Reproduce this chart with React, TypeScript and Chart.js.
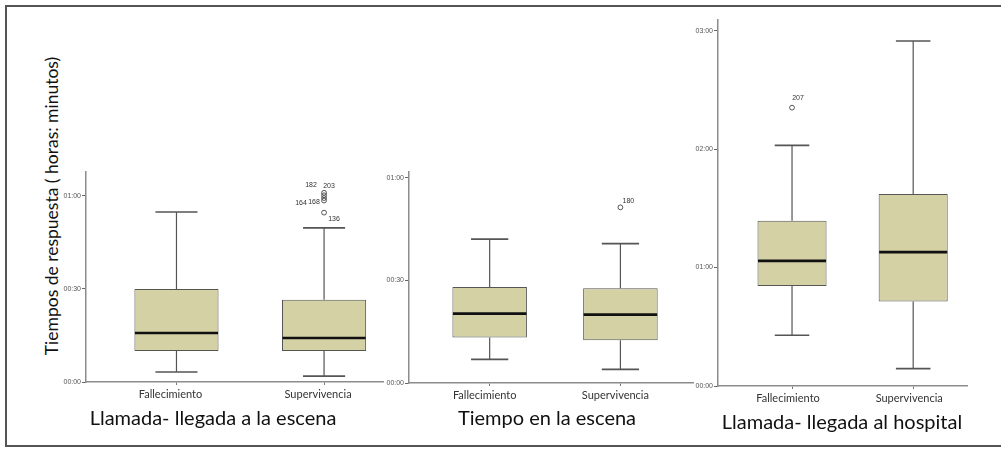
import React, { useEffect, useRef } from 'react';
import { Chart, registerables } from 'chart.js';

Chart.register(...registerables);

// ---------- data (minutes) ----------
const CATEGORIES = ['Fallecimiento', 'Supervivencia'];
const CATEGORY_POS = [0, 1];

// Panel 1: Llamada- llegada a la escena
const ESCENA_LOW = [3.2, 1.9];
const ESCENA_Q1 = [10.0, 10.0];
const ESCENA_MEDIAN = [15.8, 14.2];
const ESCENA_Q3 = [30.0, 26.5];
const ESCENA_HIGH = [54.8, 49.7];
const ESCENA_OUT_CAT = [1, 1, 1, 1, 1];
const ESCENA_OUT_VAL = [54.6, 58.5, 59.3, 61.0, 60.2];
const ESCENA_OUT_ID = ['136', '164', '168', '182', '203'];
const ESCENA_Y_TICKS = [0, 30, 60];
const ESCENA_Y_LABELS = ['00:00', '00:30', '01:00'];

// Panel 2: Tiempo en la escena
const TIEMPO_LOW = [6.9, 4.0];
const TIEMPO_Q1 = [13.3, 12.5];
const TIEMPO_MEDIAN = [20.3, 20.0];
const TIEMPO_Q3 = [28.1, 27.7];
const TIEMPO_HIGH = [42.1, 40.8];
const TIEMPO_OUT_CAT = [1];
const TIEMPO_OUT_VAL = [51.4];
const TIEMPO_OUT_ID = ['180'];
const TIEMPO_Y_TICKS = [0, 30, 60];
const TIEMPO_Y_LABELS = ['00:00', '00:30', '01:00'];

// Panel 3: Llamada- llegada al hospital
const HOSPITAL_LOW = [25.7, 8.8];
const HOSPITAL_Q1 = [50.7, 42.8];
const HOSPITAL_MEDIAN = [63.4, 67.8];
const HOSPITAL_Q3 = [83.7, 97.2];
const HOSPITAL_HIGH = [121.9, 174.8];
const HOSPITAL_OUT_CAT = [0];
const HOSPITAL_OUT_VAL = [141.0];
const HOSPITAL_OUT_ID = ['207'];
const HOSPITAL_Y_TICKS = [0, 60, 120, 180];
const HOSPITAL_Y_LABELS = ['00:00', '01:00', '02:00', '03:00'];

// ---------- styles ----------
const LABEL_OFFSETS: Record<string, [number, number]> = {
  '136': [10, 6],
  '164': [-23, 3],
  '168': [-10, 4],
  '182': [-13, -8],
  '203': [5, -9],
  '180': [8, -6],
  '207': [6, -10],
};

const BOX_FILL = '#d4d1a5';
const LINE_COLOR = '#555555';
const AXIS_COLOR = '#8c8c8c';
const BOX_FRACTION = 0.57;

type Spec = {
  low: number[]; q1: number[]; median: number[]; q3: number[]; high: number[];
  outCat: number[]; outVal: number[]; outId: string[];
  yTicks: number[]; yLabels: string[];
  yMax: number; xMin: number; xMax: number;
  left: number; top: number; width: number; height: number;
  labelOffset: number;
};

const Y_AXIS_W = 30;
const X_AXIS_H = 40;
const PAD_TOP = 10;

function BoxPanel({ spec }: { spec: Spec }) {
  const ref = useRef<HTMLCanvasElement | null>(null);
  useEffect(() => {
    if (!ref.current) return;
    const whiskerPlugin = {
      id: 'whiskers',
      afterDatasetsDraw(chart: any) {
        const ctx = chart.ctx;
        const xs = chart.scales.x;
        const ys = chart.scales.y;
        const meta = chart.getDatasetMeta(0);
        ctx.save();
        CATEGORY_POS.forEach((pos, i) => {
          const cx = xs.getPixelForValue(pos);
          const capHalf = (xs.getPixelForValue(pos + BOX_FRACTION / 4) - cx);
          const yHigh = ys.getPixelForValue(spec.high[i]);
          const yLow = ys.getPixelForValue(spec.low[i]);
          const yQ1 = ys.getPixelForValue(spec.q1[i]);
          const yQ3 = ys.getPixelForValue(spec.q3[i]);
          ctx.strokeStyle = LINE_COLOR;
          ctx.lineWidth = 1.2;
          ctx.beginPath();
          ctx.moveTo(cx, yQ3); ctx.lineTo(cx, yHigh);
          ctx.moveTo(cx, yQ1); ctx.lineTo(cx, yLow);
          ctx.stroke();
          ctx.lineWidth = 1.6;
          ctx.beginPath();
          ctx.moveTo(cx - capHalf, yHigh); ctx.lineTo(cx + capHalf, yHigh);
          ctx.moveTo(cx - capHalf, yLow); ctx.lineTo(cx + capHalf, yLow);
          ctx.stroke();
          const el = meta.data[i];
          const yMed = ys.getPixelForValue(spec.median[i]);
          ctx.strokeStyle = '#111111';
          ctx.lineWidth = 2.6;
          ctx.beginPath();
          ctx.moveTo(el.x - el.width / 2 + 0.5, yMed);
          ctx.lineTo(el.x + el.width / 2 - 0.5, yMed);
          ctx.stroke();
        });
        ctx.fillStyle = '#333333';
        ctx.font = '7px "Liberation Sans"';
        ctx.textAlign = 'center';
        ctx.textBaseline = 'middle';
        spec.outId.forEach((id, k) => {
          const px = xs.getPixelForValue(spec.outCat[k]);
          const py = ys.getPixelForValue(spec.outVal[k]);
          const off = LABEL_OFFSETS[id] || [6, -6];
          ctx.fillText(id, px + off[0], py + off[1]);
        });
        ctx.restore();
      },
    };

    const chart = new Chart(ref.current, {
      type: 'bar',
      data: {
        datasets: [
          {
            type: 'bar',
            data: CATEGORY_POS.map((pos, i) => ({ x: pos, y: [spec.q1[i], spec.q3[i]] })) as any,
            backgroundColor: BOX_FILL,
            borderColor: LINE_COLOR,
            borderWidth: 1,
            borderSkipped: false,
            barPercentage: BOX_FRACTION,
            categoryPercentage: 1,
          } as any,
          {
            type: 'scatter',
            data: spec.outVal.map((v, k) => ({ x: spec.outCat[k], y: v })),
            pointStyle: 'circle',
            pointRadius: 2.4,
            pointBackgroundColor: 'rgba(255,255,255,0)',
            pointBorderColor: '#444444',
            pointBorderWidth: 0.9,
          } as any,
        ],
      },
      options: {
        animation: false,
        responsive: false,
        events: [],
        layout: { padding: { top: PAD_TOP, left: 0, right: 0, bottom: 0 } },
        plugins: { legend: { display: false }, tooltip: { enabled: false }, title: { display: false } },
        scales: {
          x: {
            type: 'linear',
            min: spec.xMin,
            max: spec.xMax,
            offset: false,
            afterFit: (s: any) => { s.height = X_AXIS_H; },
            afterBuildTicks: (s: any) => { s.ticks = CATEGORY_POS.map((v) => ({ value: v })); },
            ticks: {
              callback: (_v: any, i: number) => CATEGORIES[i],
              font: { size: 11, family: 'Lato' },
              color: '#333333',
              padding: 3,
              labelOffset: spec.labelOffset,
              maxRotation: 0,
              autoSkip: false,
            },
            grid: { display: true, drawOnChartArea: false, drawTicks: true, tickLength: 3, color: '#777777', offset: false },
            border: { display: true, color: AXIS_COLOR, width: 1.5 },
          },
          y: {
            type: 'linear',
            min: 0,
            max: spec.yMax,
            afterFit: (s: any) => { s.width = Y_AXIS_W; },
            afterBuildTicks: (s: any) => { s.ticks = spec.yTicks.map((v) => ({ value: v })); },
            ticks: {
              callback: (_v: any, i: number) => spec.yLabels[i],
              font: { size: 7, family: 'Liberation Sans' },
              color: '#555555',
              padding: 1,
              autoSkip: false,
            },
            grid: { display: true, drawOnChartArea: false, drawTicks: true, tickLength: 4, color: '#666666' },
            border: { display: true, color: AXIS_COLOR, width: 1.5 },
          },
        },
      } as any,
      plugins: [whiskerPlugin],
    });
    return () => chart.destroy();
  }, [spec]);
  return (
    <canvas
      ref={ref}
      width={spec.width}
      height={spec.height}
      style={{ position: 'absolute', left: spec.left, top: spec.top, width: spec.width, height: spec.height }}
    />
  );
}

function makeSpec(
  d: Omit<Spec, 'left' | 'top' | 'width' | 'height'>,
  area: { left: number; right: number; top: number; bottom: number }
): Spec {
  const left = area.left - Y_AXIS_W;
  const top = area.top - PAD_TOP;
  return { ...d, left, top, width: area.right - left, height: area.bottom - top + X_AXIS_H };
}

const SPEC_ESCENA = makeSpec(
  {
    low: ESCENA_LOW, q1: ESCENA_Q1, median: ESCENA_MEDIAN, q3: ESCENA_Q3, high: ESCENA_HIGH,
    outCat: ESCENA_OUT_CAT, outVal: ESCENA_OUT_VAL, outId: ESCENA_OUT_ID,
    yTicks: ESCENA_Y_TICKS, yLabels: ESCENA_Y_LABELS,
    yMax: 67.7, xMin: -0.613, xMax: 1.4, labelOffset: -6,
  },
  { left: 86, right: 388, top: 172, bottom: 382 }
);

const SPEC_TIEMPO = makeSpec(
  {
    low: TIEMPO_LOW, q1: TIEMPO_Q1, median: TIEMPO_MEDIAN, q3: TIEMPO_Q3, high: TIEMPO_HIGH,
    outCat: TIEMPO_OUT_CAT, outVal: TIEMPO_OUT_VAL, outId: TIEMPO_OUT_ID,
    yTicks: TIEMPO_Y_TICKS, yLabels: TIEMPO_Y_LABELS,
    yMax: 61.75, xMin: -0.617, xMax: 1.556, labelOffset: -5,
  },
  { left: 409, right: 698, top: 172, bottom: 383 }
);

const SPEC_HOSPITAL = makeSpec(
  {
    low: HOSPITAL_LOW, q1: HOSPITAL_Q1, median: HOSPITAL_MEDIAN, q3: HOSPITAL_Q3, high: HOSPITAL_HIGH,
    outCat: HOSPITAL_OUT_CAT, outVal: HOSPITAL_OUT_VAL, outId: HOSPITAL_OUT_ID,
    yTicks: HOSPITAL_Y_TICKS, yLabels: HOSPITAL_Y_LABELS,
    yMax: 185.4, xMin: -0.611, xMax: 1.445, labelOffset: -4,
  },
  { left: 718, right: 972, top: 20, bottom: 386 }
);

const TITLE_STYLE: React.CSSProperties = {
  position: 'absolute',
  transform: 'translate(-50%, -50%)',
  whiteSpace: 'nowrap',
  fontFamily: 'Lato, sans-serif',
  fontSize: 20,
  lineHeight: 1,
  color: '#111111',
};

export default function App() {
  return (
    <div style={{ position: 'absolute', left: 0, top: 0, width: 1001, height: 449, overflow: 'hidden', background: '#ffffff' }}>
      <div
        style={{
          position: 'absolute', left: 5, top: 5, width: 1010, height: 442, boxSizing: 'border-box',
          borderTop: '2px solid #555', borderLeft: '2px solid #555', borderBottom: '2px solid #555',
        }}
      />
      <div
        style={{
          position: 'absolute', left: 52, top: 206, transform: 'translate(-50%, -50%) rotate(-90deg)',
          whiteSpace: 'nowrap', fontFamily: 'Lato, sans-serif', fontSize: 17.5, lineHeight: 1, color: '#111111',
        }}
      >
        Tiempos de respuesta ( horas: minutos)
      </div>
      <BoxPanel spec={SPEC_ESCENA} />
      <BoxPanel spec={SPEC_TIEMPO} />
      <BoxPanel spec={SPEC_HOSPITAL} />
      <div style={{ ...TITLE_STYLE, left: 213, top: 417 }}>Llamada- llegada a la escena</div>
      <div style={{ ...TITLE_STYLE, left: 547, top: 417 }}>Tiempo en la escena</div>
      <div style={{ ...TITLE_STYLE, left: 842, top: 421 }}>Llamada- llegada al hospital</div>
    </div>
  );
}
